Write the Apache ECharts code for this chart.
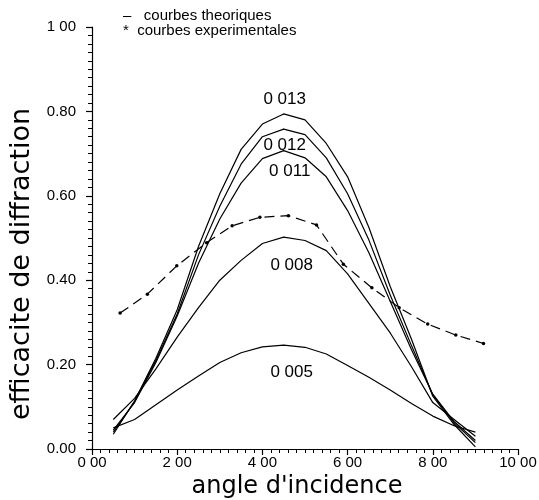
<!DOCTYPE html>
<html><head><meta charset="utf-8">
<script src="https://cdn.jsdelivr.net/npm/echarts@6/dist/echarts.min.js"></script>
<style>html,body{margin:0;padding:0;background:#fff}#c{width:539px;height:500px}</style>
</head><body><div id="c"></div>
<script>
// Theoretical curves: angle of incidence (x) and efficiency for each index modulation
const angles = [0.5,1.0,1.5,2.0,2.5,3.0,3.5,4.0,4.5,5.0,5.5,6.0,6.5,7.0,7.5,8.0,8.5,9.0];
const eff013 = [0.035,0.114,0.215,0.33,0.48,0.605,0.71,0.77,0.794,0.78,0.724,0.645,0.525,0.385,0.26,0.125,0.058,0.005];
const eff012 = [0.04,0.112,0.21,0.32,0.46,0.575,0.675,0.74,0.758,0.745,0.69,0.605,0.495,0.365,0.245,0.128,0.062,0.015];
const eff011 = [0.045,0.11,0.205,0.315,0.44,0.545,0.63,0.688,0.707,0.69,0.645,0.565,0.465,0.35,0.235,0.13,0.065,0.02];
const eff008 = [0.07,0.12,0.19,0.265,0.335,0.40,0.447,0.487,0.502,0.494,0.47,0.415,0.345,0.275,0.195,0.11,0.07,0.03];
const eff005 = [0.05,0.07,0.105,0.14,0.173,0.205,0.228,0.242,0.246,0.241,0.225,0.198,0.17,0.14,0.108,0.078,0.055,0.04];
const curveLabels = ['0 013','0 012','0 011','0 008','0 005'];
// Experimental curve
const expAngles = [0.66,1.30,1.99,2.69,3.29,3.94,4.61,5.27,5.90,6.57,7.21,7.88,8.54,9.19];
const expEff = [0.322,0.367,0.434,0.489,0.529,0.549,0.553,0.531,0.438,0.382,0.335,0.296,0.270,0.250];
// Tick labels
const xTickLabels = ['0 00','2 00','4 00','6 00','8 00','10 00'];
const yTickLabels = ['0.00','0.20','0.40','0.60','0.80','1 00'];
const legendNames = ['courbes theoriques','courbes experimentales'];

const chart = echarts.init(document.getElementById('c'), null, {renderer:'canvas'});
const peakIdx = 8;
const labelPlacement = [
  {position:'top', distance:6, offset:[1,0]},
  {position:'bottom', distance:7, offset:[1,0]},
  {position:'bottom', distance:12, offset:[6,0]},
  {position:'bottom', distance:19, offset:[8,0]},
  {position:'bottom', distance:18, offset:[8,0]}
];
const theo = [eff013, eff012, eff011, eff008, eff005];
const theoSeries = theo.map((arr, k) => ({
  type:'line', name: legendNames[0], symbol:'none', showSymbol:true,
  lineStyle:{color:'#000', width:1.2}, itemStyle:{color:'#000'},
  data: angles.map((a,i) => i === peakIdx ? {
    value:[a, arr[i]], symbol:'circle', symbolSize:1,
    label:Object.assign({show:true, formatter: curveLabels[k], color:'#000',
      fontSize:17, fontFamily:'Liberation Sans, Arial, sans-serif'}, labelPlacement[k])
  } : [a, arr[i]])
}));
const expSeries = {
  type:'line', name: legendNames[1], symbol:'circle', symbolSize:3.5, showSymbol:true,
  lineStyle:{color:'#000', width:1.2, type:[10,6]}, itemStyle:{color:'#000'},
  data: expAngles.map((a,i) => [a, expEff[i]])
};
const axisFont = {color:'#000', fontSize:15, fontFamily:'Liberation Sans, Arial, sans-serif'};
chart.setOption({
  animation:false,
  backgroundColor:'#fff',
  grid:{left:92, right:21, top:27, bottom:51, outerBoundsMode:'none', containLabel:false},
  legend:{
    orient:'vertical', left:113, top:3, itemGap:0, itemWidth:0, itemHeight:10,
    icon:'none', selectedMode:false,
    data: legendNames,
    formatter: n => (n === legendNames[0] ? '\u2013   ' : '*  ') + n,
    textStyle:{color:'#000', fontSize:15, fontFamily:'Liberation Sans, Arial, sans-serif'}
  },
  xAxis:{
    type:'value', min:0, max:10, interval:2,
    name:"angle d'incidence", nameLocation:'middle', nameGap:26,
    nameTextStyle:{color:'#000', fontSize:24, fontFamily:'DejaVu Sans, sans-serif', padding:[0,16,0,0]},
    axisLine:{lineStyle:{color:'#000', width:1.2}},
    axisTick:{show:true, length:6, lineStyle:{color:'#000', width:1.2}},
    minorTick:{show:true, splitNumber:10, length:4, lineStyle:{color:'#000', width:1}},
    splitLine:{show:false}, minorSplitLine:{show:false},
    axisLabel:Object.assign({margin:6, formatter: v => xTickLabels[Math.round(v/2)]}, axisFont)
  },
  yAxis:{
    type:'value', min:0, max:1, interval:0.2,
    name:'efficacite de diffraction', nameLocation:'middle', nameGap:57,
    nameTextStyle:{color:'#000', fontSize:27, fontFamily:'DejaVu Sans, sans-serif', padding:[0,52,0,0]},
    axisLine:{show:true, lineStyle:{color:'#000', width:1.2}},
    axisTick:{show:true, length:6, lineStyle:{color:'#000', width:1.2}},
    minorTick:{show:true, splitNumber:10, length:4, lineStyle:{color:'#000', width:1}},
    splitLine:{show:false}, minorSplitLine:{show:false},
    axisLabel:Object.assign({margin:16, formatter: v => yTickLabels[Math.round(v*5)]}, axisFont)
  },
  series: theoSeries.concat([expSeries])
});
</script></body></html>
